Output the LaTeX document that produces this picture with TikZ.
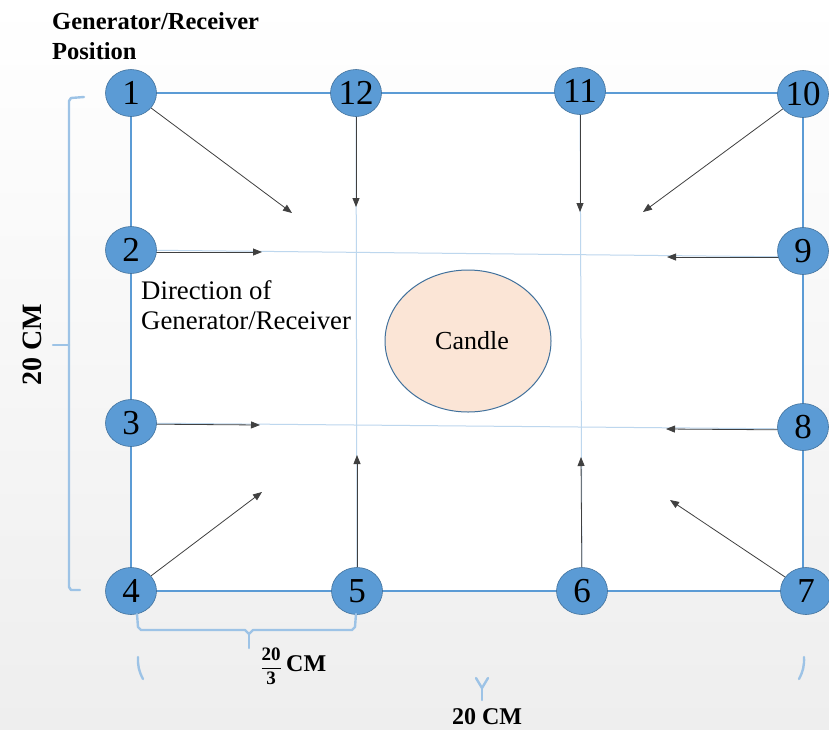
\documentclass[tikz,border=0pt]{standalone}
\usepackage{fontspec}
\setmainfont{Liberation Serif}
\usetikzlibrary{shapes.geometric,arrows.meta}
\definecolor{nodeblue}{HTML}{5B9BD5}
\definecolor{nodeedge}{HTML}{41719C}
\definecolor{lightblue}{HTML}{BDD7EE}
\definecolor{bracecol}{HTML}{9DC3E6}
\definecolor{candlefill}{HTML}{FBE5D6}
\definecolor{bggray}{HTML}{EEEEEE}
\pgfdeclarelayer{bglayer}
\pgfdeclarelayer{linelayer}
\pgfsetlayers{bglayer,linelayer,main}
\begin{document}
\begin{tikzpicture}[x=1pt,y=-1pt,
  gennode/.style={ellipse,minimum width=51pt,minimum height=47pt,inner sep=0pt,fill=nodeblue,draw=nodeedge,line width=0.6pt,font=\fontsize{35}{35}\selectfont},
  framel/.style={draw=nodeblue,line width=2.2pt},
  gridl/.style={draw=lightblue,line width=1pt},
  arr/.style={draw=black!75,line width=0.8pt,-{Triangle[length=9pt,width=7pt]}},
  bracel/.style={draw=bracecol,line width=2.4pt,line cap=round,line join=round},
]
\useasboundingbox (0,0) rectangle (829,729);
\begin{pgfonlayer}{bglayer}
\shade[top color=white,bottom color=bggray] (0,0) rectangle (829,729);
\fill[white] (131,93) rectangle (803,591);
\end{pgfonlayer}

% position nodes
\node[gennode] (n1) at (131,93) {1};
\node[gennode] (n12) at (356,93) {12};
\node[gennode] (n11) at (580,91) {11};
\node[gennode] (n10) at (803,94) {10};
\node[gennode] (n2) at (131,250) {2};
\node[gennode] (n9) at (803,251) {9};
\node[gennode] (n3) at (131,423) {3};
\node[gennode] (n8) at (803,427) {8};
\node[gennode] (n4) at (131,591) {4};
\node[gennode] (n5) at (357,591) {5};
\node[gennode] (n6) at (582,591) {6};
\node[gennode] (n7) at (806,591) {7};

% frame and grid lines
\begin{pgfonlayer}{linelayer}
\draw[framel] (n1.center) -- (n12.center) -- (n11.center |- n12.center) -- (n10.center |- n12.center);
\draw[framel] (n10.center) -- (n9.center) -- (n8.center) -- (n8.center |- n7.center);
\draw[framel] (n7.center) -- (n6.center) -- (n5.center) -- (n4.center);
\draw[framel] (n4.center) -- (n3.center) -- (n2.center) -- (n1.center);
\draw[gridl] (n12.center) -- (n5.center);
\draw[gridl] (n11.center) -- (n6.center);
\draw[gridl] (n2.center) -- ([yshift=-6pt]n9.center);
\draw[gridl] (n3.center) -- ([yshift=-2pt]n8.center);
% arrow end points
\coordinate (a1) at (292,213);
\coordinate (a12) at (356,207);
\coordinate (a11) at (580,212);
\coordinate (a10) at (643,212);
\coordinate (a2) at (262,252);
\coordinate (a9) at (667,257);
\coordinate (a3) at (260,425);
\coordinate (a8) at (666,429);
\coordinate (a4) at (262,492);
\coordinate (a5) at (357,455);
\coordinate (a6) at (581,457);
\coordinate (a7) at (670,500);
\draw[arr] (n1) -- (a1);
\draw[arr] (n12) -- (a12);
\draw[arr] (n11) -- (a11);
\draw[arr] (n10) -- (a10);
\draw[arr] ([yshift=-2pt]n2.center) -- (a2);
\draw[arr] ([yshift=-6pt]n9.center) -- (a9);
\draw[arr] ([yshift=-1pt]n3.center) -- (a3);
\draw[arr] ([yshift=-3pt]n8.center) -- (a8);
\draw[arr] (n4) -- (a4);
\draw[arr] (n5) -- (a5);
\draw[arr] (n6) -- (a6);
\draw[arr] (n7) -- (a7);
\end{pgfonlayer}

% candle
\node[ellipse,minimum width=166pt,minimum height=142pt,fill=candlefill,draw=nodeedge,line width=1pt,font=\fontsize{26}{26}\selectfont] (candle) at (468,341) {\hspace*{8pt}Candle};

% texts
\node[anchor=north west,align=left,inner sep=0pt,font=\bfseries\fontsize{24.5}{30}\selectfont] (title) at (52,12) {Generator/Receiver\\Position};
\node[anchor=north west,align=left,inner sep=0pt,font=\fontsize{26.8}{30}\selectfont] (dir) at (141,280) {Direction of\\Generator/Receiver};
\node[rotate=90,inner sep=0pt,font=\bfseries\fontsize{28}{28}\selectfont] (lbl) at (32,345) {20 CM};
\node[inner sep=0pt,font=\bfseries\fontsize{24}{24}\selectfont] (blbl) at (487,717) {20 CM};
\node[anchor=east,inner sep=0pt,font=\fontsize{19}{19}\selectfont] (frac) at (282,666) {\(\displaystyle\frac{\textbf{20}}{\textbf{3}}\)};
\node[anchor=west,inner sep=0pt,font=\bfseries\fontsize{24}{24}\selectfont] (flbl) at (286,664) {CM};

% braces
\coordinate (lb1) at (84,97);
\coordinate (lb2) at (80,590);
\coordinate (lbm) at (53,345);
\draw[bracel] (lb1) -- (71,98) -- (69,101) -- (69,587) -- (71,590) -- (lb2);
\draw[bracel] (69,345) -- (lbm);
\coordinate (sb1) at (137,614);
\coordinate (sb2) at (356,614);
\draw[bracel] (sb1) -- (138,627) -- (141,630) -- (245,630) -- (249,634) -- (253,630) -- (352,630) -- (355,627) -- (sb2);
\draw[bracel] (249,634) -- (249,648);
\coordinate (bb1) at (138,657);
\coordinate (bb2) at (143,679);
\draw[bracel] (bb1) to[bend right=15] (bb2);
\coordinate (bb3) at (804,657);
\coordinate (bb4) at (799,679);
\draw[bracel] (bb3) to[bend left=15] (bb4);
\coordinate (by) at (482,688);
\draw[bracel] (476,678) -- (by) -- (488,678);
\draw[bracel] (by) -- (482,700);
\end{tikzpicture}
\end{document}
